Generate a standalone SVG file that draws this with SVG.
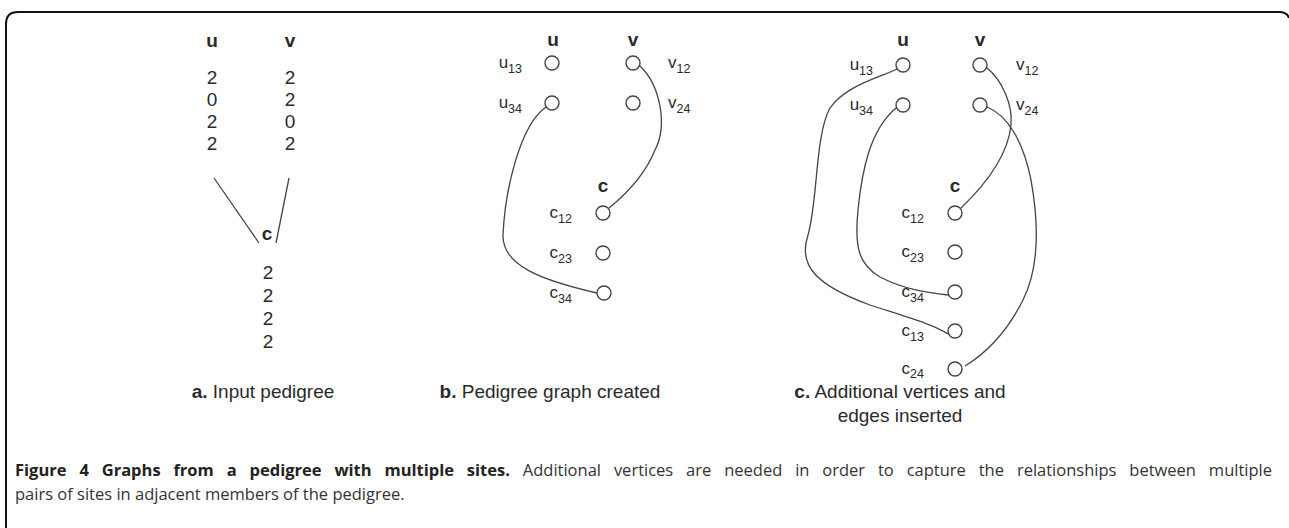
<svg xmlns="http://www.w3.org/2000/svg" width="1289" height="528" viewBox="0 0 1289 528">
<style>
.t{font-family:"Liberation Sans",Arial,sans-serif;fill:#2a2a2a}
.h{font-size:19px;font-weight:bold;text-anchor:middle}
.n{font-size:19px;text-anchor:middle}
.lb{font-size:17px;text-anchor:end}
.ls{font-size:17px}
.sub{font-size:12.5px}
.cap{font-size:19px;text-anchor:middle}
.v{fill:#fff;stroke:#444;stroke-width:1.4}
.e{fill:none;stroke:#444;stroke-width:1.3}
.c1{font-family:"Open Sans","Noto Sans",sans-serif;font-size:16.5px;fill:#333}
</style>
<rect width="1289" height="528" fill="#fff"/>
<path d="M6,528 V24 Q6,12 18,12 H1279 Q1287,12 1289,18" fill="none" stroke="#111" stroke-width="2"/>

<!-- panel a -->
<g id="a-u" class="t"><text class="h" x="212" y="47">u</text>
<text class="n" x="212" y="84">2</text><text class="n" x="212" y="106">0</text><text class="n" x="212" y="128">2</text><text class="n" x="212" y="150">2</text></g>
<g id="a-v" class="t"><text class="h" x="290" y="47">v</text>
<text class="n" x="290" y="84">2</text><text class="n" x="290" y="106">2</text><text class="n" x="290" y="128">0</text><text class="n" x="290" y="150">2</text></g>
<g id="a-c" class="t"><text class="h" x="267" y="240">c</text>
<text class="n" x="268" y="279">2</text><text class="n" x="268" y="302">2</text><text class="n" x="268" y="325">2</text><text class="n" x="268" y="348">2</text></g>
<g id="a-edges"><line class="e" x1="214" y1="178" x2="259" y2="243"/><line class="e" x1="289" y1="178" x2="276" y2="243"/></g>
<text class="t cap" x="263" y="398"><tspan font-weight="bold">a.</tspan> Input pedigree</text>

<!-- panel b -->
<g class="t"><text class="h" x="553" y="46">u</text><text class="h" x="633" y="46">v</text><text class="h" x="603" y="192">c</text></g>
<g id="b-edges">
<path class="e" d="M546,107 C520,125 505,190 503,235 C502,265 540,280 597,293"/>
<path class="e" d="M640,66 C660,85 668,125 655,150 C645,175 625,195 609,208"/>
</g>
<g id="b-u13"><circle class="v" cx="552" cy="63" r="7"/><text class="t lb" x="522" y="68">u<tspan class="sub" dy="5">13</tspan></text></g>
<g id="b-u34"><circle class="v" cx="552" cy="103" r="7"/><text class="t lb" x="522" y="108">u<tspan class="sub" dy="5">34</tspan></text></g>
<g id="b-v12"><circle class="v" cx="633" cy="63" r="7"/><text class="t ls" x="668" y="68">v<tspan class="sub" dy="5">12</tspan></text></g>
<g id="b-v24"><circle class="v" cx="633" cy="103" r="7"/><text class="t ls" x="668" y="108">v<tspan class="sub" dy="5">24</tspan></text></g>
<g id="b-c12"><circle class="v" cx="603" cy="213" r="7"/><text class="t lb" x="572" y="218">c<tspan class="sub" dy="5">12</tspan></text></g>
<g id="b-c23"><circle class="v" cx="603" cy="253" r="7"/><text class="t lb" x="572" y="258">c<tspan class="sub" dy="5">23</tspan></text></g>
<g id="b-c34"><circle class="v" cx="604" cy="293" r="7"/><text class="t lb" x="572" y="298">c<tspan class="sub" dy="5">34</tspan></text></g>
<text class="t cap" x="550" y="398"><tspan font-weight="bold">b.</tspan> Pedigree graph created</text>

<!-- panel c -->
<g class="t"><text class="h" x="903" y="46">u</text><text class="h" x="980" y="46">v</text><text class="h" x="955" y="192">c</text></g>
<g id="c-edges">
<path class="e" d="M897,69 C878,78 845,86 830,108 C815,135 818,200 808,235 C798,265 815,285 870,305 C910,318 935,325 948,334"/>
<path class="e" d="M896,108 C870,130 862,170 858,210 C854,250 860,265 880,277 C905,290 930,293 948,295"/>
<path class="e" d="M987,68 C1002,80 1013,105 1011,125 C1008,155 985,185 961,208"/>
<path class="e" d="M987,107 C1007,115 1023,140 1031,180 C1040,230 1038,270 1023,300 C1008,330 988,352 965,366"/>
</g>
<g id="c-u13"><circle class="v" cx="903" cy="65" r="7"/><text class="t lb" x="873" y="70">u<tspan class="sub" dy="5">13</tspan></text></g>
<g id="c-u34"><circle class="v" cx="903" cy="105" r="7"/><text class="t lb" x="873" y="110">u<tspan class="sub" dy="5">34</tspan></text></g>
<g id="c-v12"><circle class="v" cx="980" cy="65" r="7"/><text class="t ls" x="1016" y="70">v<tspan class="sub" dy="5">12</tspan></text></g>
<g id="c-v24"><circle class="v" cx="980" cy="105" r="7"/><text class="t ls" x="1016" y="110">v<tspan class="sub" dy="5">24</tspan></text></g>
<g id="c-c12"><circle class="v" cx="955" cy="213" r="7"/><text class="t lb" x="924" y="218">c<tspan class="sub" dy="5">12</tspan></text></g>
<g id="c-c23"><circle class="v" cx="955" cy="252" r="7"/><text class="t lb" x="924" y="257">c<tspan class="sub" dy="5">23</tspan></text></g>
<g id="c-c34"><circle class="v" cx="955" cy="292" r="7"/><text class="t lb" x="924" y="297">c<tspan class="sub" dy="5">34</tspan></text></g>
<g id="c-c13"><circle class="v" cx="955" cy="331" r="7"/><text class="t lb" x="924" y="336">c<tspan class="sub" dy="5">13</tspan></text></g>
<g id="c-c24"><circle class="v" cx="955" cy="369" r="7"/><text class="t lb" x="924" y="374">c<tspan class="sub" dy="4">24</tspan></text></g>
<text class="t cap" x="900" y="398"><tspan font-weight="bold">c.</tspan> Additional vertices and</text>
<text class="t cap" x="900" y="422">edges inserted</text>

<!-- caption -->
<text class="c1" x="15" y="476" word-spacing="8.6"><tspan font-weight="bold" fill="#222">Figure 4 Graphs from a pedigree with multiple sites.</tspan> Additional vertices are needed in order to capture the relationships between multiple</text>
<text class="c1" x="15" y="500">pairs of sites in adjacent members of the pedigree.</text>
</svg>
